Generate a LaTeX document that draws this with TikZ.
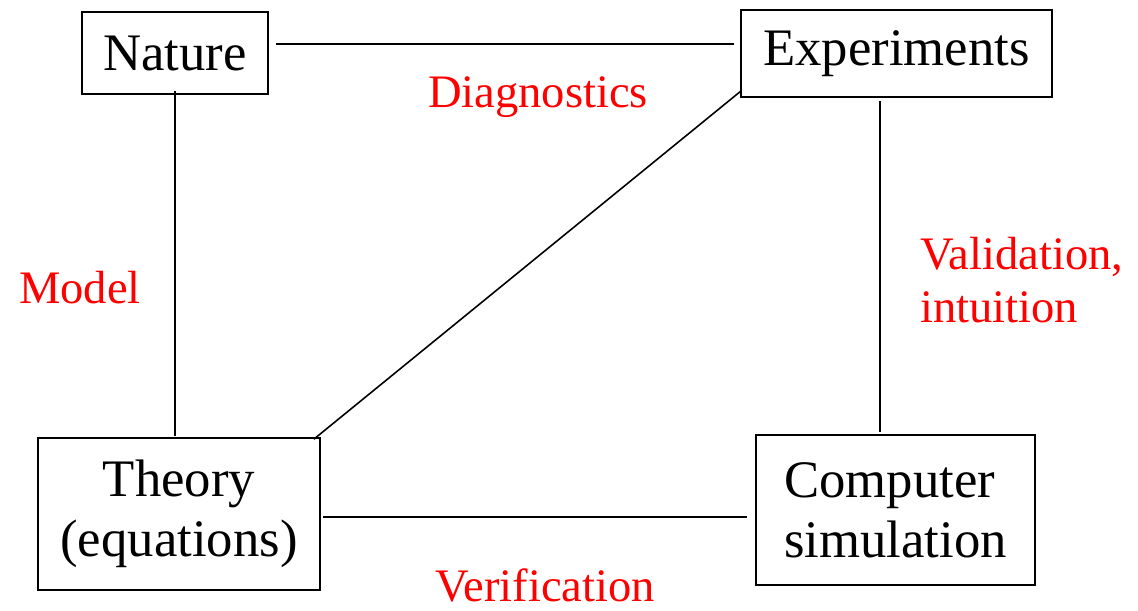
\documentclass[tikz,border=0pt]{standalone}
\usepackage{fontspec}
\setmainfont{Liberation Serif}
\usetikzlibrary{calc}
\begin{document}
\begin{tikzpicture}[x=0.02cm,y=-0.02cm,
  box/.style={draw,line width=0.9pt,inner sep=0pt,font=\fontsize{30}{34}\selectfont},
  link/.style={line width=0.9pt},
  lbl/.style={text=red,inner sep=0pt,font=\fontsize{26.5}{30}\selectfont}]
\useasboundingbox (0,0) rectangle (1138,610);
\node[box,minimum width=186*0.02cm,minimum height=82*0.02cm] (nature) at (175,53) {Nature};
\node[box,minimum width=311*0.02cm,minimum height=87*0.02cm] (exp) at (896.5,53.5) {Experiments};
\node[box,minimum width=282*0.02cm,minimum height=152*0.02cm,align=center] (theory) at (179,514) {Theory\\(equations)};
\node[box,minimum width=279*0.02cm,minimum height=150*0.02cm,align=left] (comp) at (895.5,510) {Computer\\simulation};
\draw[link] ($(nature.east)+(7,-9)$) -- ($(exp.west)+(-6,-9.5)$);
\draw[link] ($(nature.south)+(0,-4)$) -- ($(theory.north)+(-4,-1)$);
\draw[link] ($(exp.south west)+(1,-7)$) -- ($(theory.north east)+(-7,2)$);
\draw[link] ($(exp.south)+(-16.5,3)$) -- ($(comp.north)+(-15.5,-2)$);
\draw[link] ($(theory.east)+(2,3)$) -- ($(comp.west)+(-8,7)$);
\node[lbl] (diag) at (538,97) {Diagnostics};
\node[lbl] (model) at (80,288) {Model};
\node[lbl,anchor=west,align=left] (valid) at (920,280) {Validation,\\intuition};
\node[lbl] (verif) at (545,585) {Verification};
\end{tikzpicture}
\end{document}
